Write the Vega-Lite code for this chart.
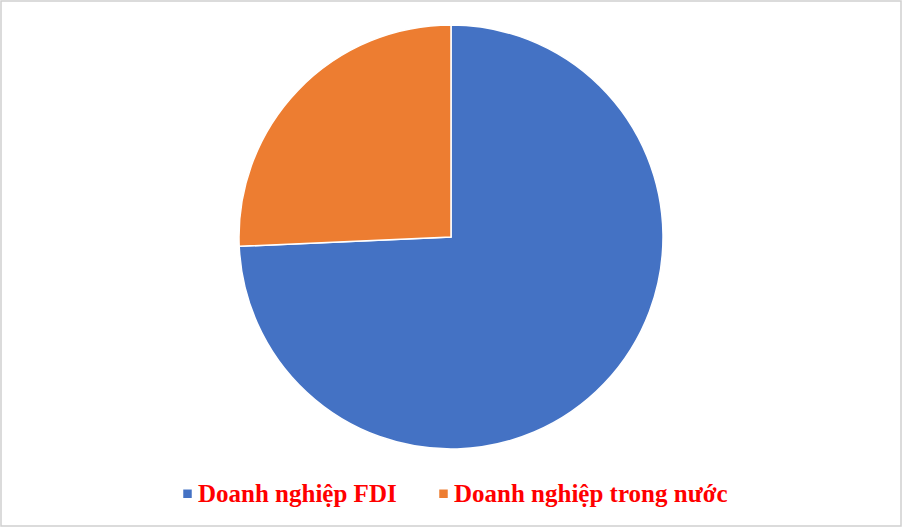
{
  "$schema": "https://vega.github.io/schema/vega-lite/v6.json",
  "width": 900,
  "height": 525,
  "padding": 1,
  "autosize": "none",
  "view": {"stroke": "#d0d0d0", "strokeWidth": 1.5, "fill": "white"},
  "data": {
    "values": [
      {"loai": "Doanh nghiệp FDI", "ty_le": 74.3, "thu_tu": 1},
      {"loai": "Doanh nghiệp trong nước", "ty_le": 25.7, "thu_tu": 2}
    ]
  },
  "mark": {
    "type": "arc",
    "outerRadius": 212,
    "y": {"expr": "height/2 - 26.5"},
    "stroke": "white",
    "strokeWidth": 1.5
  },
  "encoding": {
    "theta": {"field": "ty_le", "type": "quantitative", "stack": true},
    "order": {"field": "thu_tu", "type": "quantitative"},
    "color": {
      "field": "loai",
      "type": "nominal",
      "sort": ["Doanh nghiệp FDI", "Doanh nghiệp trong nước"],
      "scale": {
        "domain": ["Doanh nghiệp FDI", "Doanh nghiệp trong nước"],
        "range": ["#4472C4", "#ED7D31"]
      },
      "legend": {
        "title": null,
        "orient": "none",
        "direction": "horizontal",
        "legendX": 174,
        "legendY": 480,
        "symbolType": "square",
        "symbolSize": 72,
        "symbolStrokeWidth": 0,
        "symbolOffset": 0,
        "labelFont": "Liberation Serif",
        "labelFontWeight": "bold",
        "labelFontSize": 25,
        "labelColor": "#FF0000",
        "labelLimit": 0,
        "labelOffset": -2,
        "columnPadding": 34
      }
    }
  },
  "config": {
    "background": "white"
  }
}
